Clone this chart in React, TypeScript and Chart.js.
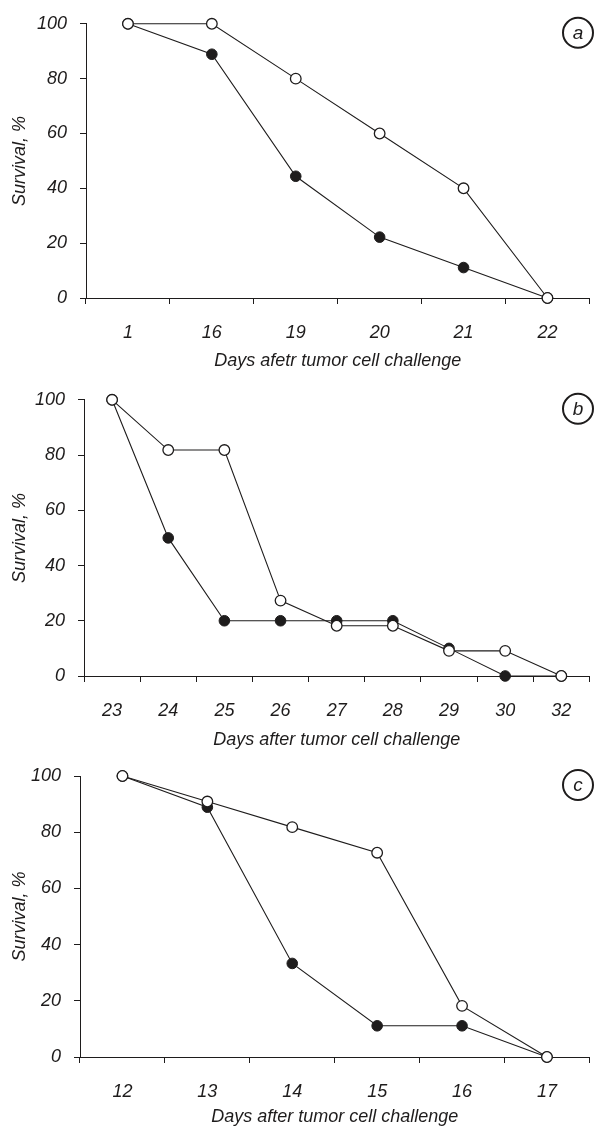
import React, { useEffect, useRef } from "react";
import { Chart, registerables } from "chart.js";

Chart.register(...registerables);

const FONT = "'Liberation Sans Narrow', 'Liberation Sans', Arial, sans-serif";
const INK = "#1e1c1c";

const yTickValues = [0, 20, 40, 60, 80, 100];

const daysA = ["1", "16", "19", "20", "21", "22"];
const openA = [100, 100, 80, 60, 40, 0];
const filledA = [100, 88.9, 44.4, 22.2, 11.1, 0];

const daysB = ["23", "24", "25", "26", "27", "28", "29", "30", "32"];
const openB = [100, 81.8, 81.8, 27.3, 18.2, 18.2, 9.1, 9.1, 0];
const filledB = [100, 50, 20, 20, 20, 20, 10, 0, 0];

const daysC = ["12", "13", "14", "15", "16", "17"];
const openC = [100, 90.9, 81.8, 72.7, 18.2, 0];
const filledC = [100, 88.9, 33.3, 11.1, 11.1, 0];

const xTitleA = "Days afetr tumor cell challenge";
const xTitleBC = "Days after tumor cell challenge";
const yTitle = "Survival, %";

type PanelProps = {
  labels: string[];
  open: number[];
  filled: number[];
  letter: string;
  xTitle: string;
  top: number;
  height: number;
  left: number;
  areaTop: number;
  areaBottom: number;
  rightPad: number;
  titlePad: number;
};

function Panel(p: PanelProps) {
  const ref = useRef<HTMLCanvasElement | null>(null);
  useEffect(() => {
    if (!ref.current) return;
    const font = { family: FONT, size: 18, style: "italic" as const };
    const letterPlugin = {
      id: "letter" + p.letter,
      afterDraw(chart: any) {
        const ctx = chart.ctx;
        const x = chart.width - 18;
        const y = chart.chartArea.top + 9;
        ctx.save();
        ctx.beginPath();
        ctx.arc(x, y, 15, 0, Math.PI * 2);
        ctx.lineWidth = 2;
        ctx.strokeStyle = INK;
        ctx.stroke();
        ctx.fillStyle = INK;
        ctx.font = `italic 19px ${FONT}`;
        ctx.textAlign = "center";
        ctx.textBaseline = "middle";
        ctx.fillText(p.letter, x, y + 1);
        ctx.restore();
      },
    };
    const chart = new Chart(ref.current, {
      type: "line",
      data: {
        labels: p.labels,
        datasets: [
          {
            data: p.open,
            borderColor: INK,
            borderWidth: 1.1,
            pointRadius: 5.3,
            pointBorderWidth: 1.3,
            pointBackgroundColor: "#ffffff",
            pointBorderColor: INK,
            tension: 0,
            clip: false as any,
          },
          {
            data: p.filled,
            borderColor: INK,
            borderWidth: 1.1,
            pointRadius: 5.3,
            pointBorderWidth: 1,
            pointBackgroundColor: INK,
            pointBorderColor: INK,
            tension: 0,
            clip: false as any,
          },
        ],
      },
      options: {
        responsive: false,
        animation: false,
        devicePixelRatio: 1,
        layout: { padding: { top: p.areaTop, right: p.rightPad, left: 0, bottom: 0 } },
        plugins: { legend: { display: false }, tooltip: { enabled: false } },
        scales: {
          x: {
            type: "category",
            offset: true,
            grid: {
              offset: true,
              drawOnChartArea: false,
              drawTicks: true,
              tickLength: 6,
              color: INK,
              lineWidth: 1,
            },
            border: { display: true, color: INK, width: 1 },
            ticks: { color: INK, font, padding: 18, maxRotation: 0, autoSkip: false },
            title: {
              display: true,
              text: p.xTitle,
              color: INK,
              font,
              padding: { top: 0, bottom: p.titlePad },
            },
            afterFit: (s: any) => {
              s.height = p.height - p.areaBottom;
            },
          },
          y: {
            min: 0,
            max: 100,
            afterBuildTicks: (s: any) => {
              s.ticks = yTickValues.map((v) => ({ value: v }));
            },
            grid: {
              drawOnChartArea: false,
              drawTicks: true,
              tickLength: 6,
              color: INK,
              lineWidth: 1,
            },
            border: { display: true, color: INK, width: 1 },
            ticks: { color: INK, font, padding: 13 },
            title: {
              display: true,
              text: yTitle,
              color: INK,
              font,
              padding: { top: 9, bottom: 0 },
            },
            afterFit: (s: any) => {
              s.width = p.left;
            },
          },
        },
      },
      plugins: [letterPlugin],
    });
    return () => chart.destroy();
  }, []);
  return (
    <canvas
      ref={ref}
      width={596}
      height={p.height}
      style={{ position: "absolute", left: 0, top: p.top, width: 596, height: p.height }}
    />
  );
}

export default function App() {
  return (
    <div style={{ position: "absolute", left: 0, top: 0, width: 596, height: 1128, background: "#fff" }}>
      <Panel labels={daysA} open={openA} filled={filledA} letter="a" xTitle={xTitleA}
        top={0} height={376} left={86} areaTop={20} areaBottom={298} rightPad={0} titlePad={3.8} />
      <Panel labels={daysB} open={openB} filled={filledB} letter="b" xTitle={xTitleBC}
        top={376} height={376} left={84} areaTop={23} areaBottom={300} rightPad={2} titlePad={0.8} />
      <Panel labels={daysC} open={openC} filled={filledC} letter="c" xTitle={xTitleBC}
        top={752} height={376} left={80} areaTop={24} areaBottom={305} rightPad={2} titlePad={0.5} />
    </div>
  );
}
